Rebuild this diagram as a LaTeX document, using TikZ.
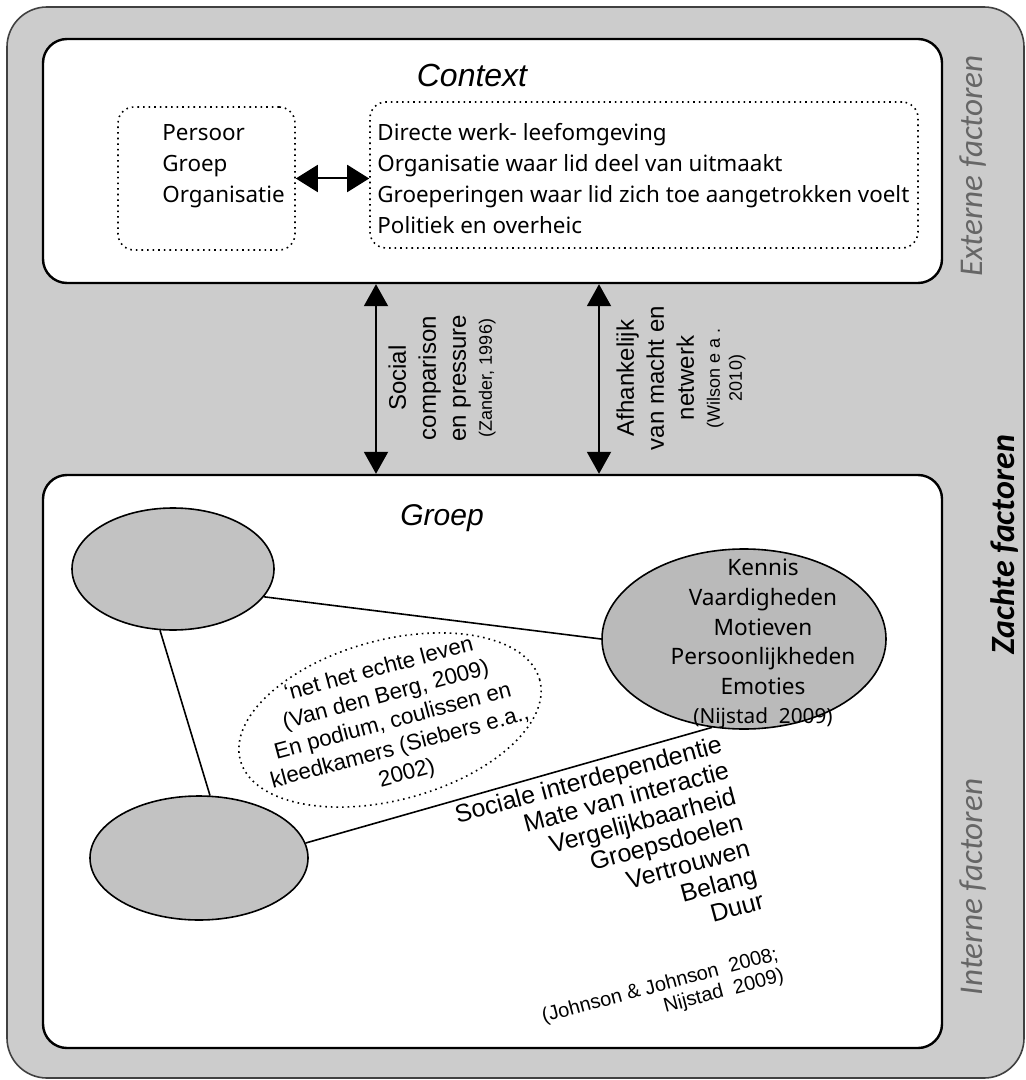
\documentclass[tikz,border=0pt]{standalone}
\usepackage{fontspec}
\setmainfont{Liberation Sans}
\newfontfamily\segoe{Noto Sans}
\newfontfamily\calib{Carlito}
\usetikzlibrary{shapes.geometric,arrows.meta}
\begin{document}
\begin{tikzpicture}[x=0.5pt,y=-0.5pt,
  bigbox/.style={draw, line width=1.2pt, fill=white, rounded corners=12pt, inner sep=0pt},
  dotbox/.style={draw, dotted, line width=0.8pt, rounded corners=8pt, inner sep=0pt},
  oval/.style={ellipse, draw, line width=0.8pt, fill=black!24, inner sep=0pt},
  link/.style={line width=0.8pt},
  vdbl/.style={line width=1pt, {Triangle[length=11pt,width=12pt]}-{Triangle[length=11pt,width=12pt]}},
  hdbl/.style={line width=1pt, {Triangle[length=11pt,width=13.5pt]}-{Triangle[length=11pt,width=13.5pt]}},
  side/.style={font=\calib\itshape\fontsize{16.6}{19}\selectfont, rotate=90, text=black!60, inner sep=0pt},
  seg/.style={font=\segoe\fontsize{11.2}{15.5}\selectfont, inner sep=0pt},
  vlab/.style={rotate=90, align=center, inner sep=0pt, font=\fontsize{12}{15}\selectfont}
]
\useasboundingbox (0,0) rectangle (1026,1080);
\draw[fill=black!20, draw=black!75, line width=0.8pt, rounded corners=20pt] (7,7) rectangle (1024,1078);

% main boxes
\node[bigbox, minimum width=449.5pt, minimum height=122pt] (ctx) at (492.5,161) {};
\node[bigbox, minimum width=449.5pt, minimum height=286.5pt] (grp) at (492.5,761.5) {};

% titles
\node[font=\itshape\fontsize{16}{19}\selectfont] (ctxt) at (472,75) {Context};
\node[font=\itshape\fontsize{15}{18}\selectfont] (grpt) at (442,518) {Groep};

% dotted boxes in context
\node[dotbox, minimum width=88.5pt, minimum height=71.5pt] (pbox) at (206.5,178.5) {};
\node[dotbox, minimum width=274pt, minimum height=73pt] (cbox) at (644,175) {};
\node[seg, anchor=north west, align=left] (ptext) at (162,124) {Persoor\\Groep\\Organisatie};
\node[seg, anchor=north west, align=left] (ctext) at (377,123) {Directe werk- leefomgeving\\Organisatie waar lid deel van uitmaakt\\Groeperingen waar lid zich toe aangetrokken voelt\\Politiek en overheic};
\draw[hdbl] (pbox.east) -- (pbox.east -| cbox.west);

% vertical arrows
\draw[vdbl] ([xshift=-58.25pt]ctx.south) -- ([xshift=-58.25pt]grp.north);
\draw[vdbl] ([xshift=53.25pt]ctx.south) -- ([xshift=53.25pt]grp.north);
\node[vlab] (lab1) at (442,378) {Social\\comparison\\en pressure\\[-2pt]{\fontsize{9}{10}\selectfont (Zander, 1996)}};
\node[vlab] (lab2) at (681,378) {Afhankelijk\\van macht en\\netwerk\\[-2pt]{\fontsize{9}{10}\selectfont (Wilson e a .}\\[-4pt]{\fontsize{9}{10}\selectfont 2010)}};

% ellipses
\node[oval, minimum width=101pt, minimum height=61pt] (e1) at (173,569) {};
\node[oval, minimum width=109pt, minimum height=62pt] (e2) at (199,858) {};
\node[oval, minimum width=142pt, minimum height=90pt, fill=black!27] (e3) at (744,639) {};
\node[seg, align=center, font=\segoe\fontsize{11.3}{14.8}\selectfont] (e3t) at (763,644) {Kennis\\Vaardigheden\\Motieven\\Persoonlijkheden\\Emoties\\{\fontsize{10.4}{11}\selectfont (Nijstad\ \ 2009)}};

\draw[link] (e1.-17) -- (e3.west);
\draw[link] (e1.-102) -- (e2.80);
\draw[link] (e2.8) -- (e3.-110);

% dotted ellipse
\node[ellipse, draw, dotted, line width=0.8pt, minimum width=155pt, minimum height=80pt, rotate=15, inner sep=0pt] (dov) at (390,720) {};
\node[rotate=15, align=center, inner sep=0pt, font=\fontsize{11.2}{13.5}\selectfont] (dovt) at (393,722) {‘net het echte leven\\(Van den Berg, 2009)\\En podium, coulissen en\\kleedkamers (Siebers e.a.,\\2002)};

% factor list
\node[rotate=15, anchor=north east, align=right, inner sep=0pt, font=\fontsize{12.5}{13.5}\selectfont] (list) at (719,734) {Sociale interdependentie\\Mate van interactie\\Vergelijkbaarheid\\Groepsdoelen\\Vertrouwen\\Belang\\Duur\\[13pt]{\fontsize{10}{11}\selectfont (Johnson \& Johnson\ \ 2008;}\\[-2.5pt]{\fontsize{10}{11}\selectfont Nijstad\ \ 2009)}};

% side labels
\node[side] (ext) at (973,166) {Externe factoren};
\node[side, font=\calib\bfseries\itshape\fontsize{17}{19}\selectfont, text=black] (zf) at (1005,545) {Zachte factoren};
\node[side] (intf) at (973,887) {Interne factoren};
\end{tikzpicture}
\end{document}
